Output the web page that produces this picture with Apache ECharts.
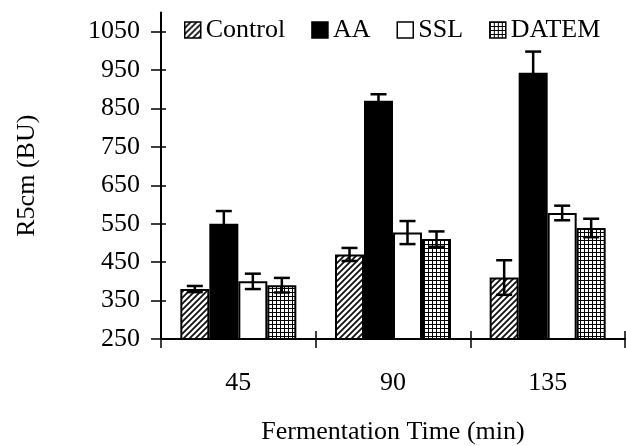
<!DOCTYPE html>
<html>
<head>
<meta charset="utf-8">
<script src="https://cdn.jsdelivr.net/npm/echarts@6/dist/echarts.min.js"></script>
<style>
html, body { margin: 0; padding: 0; background: #fff; }
#chart { width: 626px; height: 446px; }
</style>
</head>
<body>
<div id="chart"></div>
<script>
var categories = ['45', '90', '135'];
var seriesNames = ['Control', 'AA', 'SSL', 'DATEM'];
var controlVals = [380, 470, 410];
var aaVals = [550, 870, 943];
var sslVals = [400, 527, 578];
var datemVals = [390, 510, 539];
var controlErr = [8, 17, 45];
var aaErr = [33, 17, 55];
var sslErr = [20, 30, 19];
var datemErr = [19, 20, 24];
var yTicks = [250, 350, 450, 550, 650, 750, 850, 950, 1050];

var FONT = 'Liberation Serif';
var barW = 29;

// fill patterns
function hatchPattern() {
    var c = document.createElement('canvas');
    c.width = 6; c.height = 6;
    var g = c.getContext('2d');
    g.fillStyle = '#fff';
    g.fillRect(0, 0, 6, 6);
    g.strokeStyle = '#111';
    g.lineWidth = 1.8;
    g.beginPath();
    g.moveTo(-1, 7); g.lineTo(7, -1);
    g.moveTo(-1, 1); g.lineTo(1, -1);
    g.moveTo(5, 7); g.lineTo(7, 5);
    g.stroke();
    return c;
}
function gridPattern() {
    var c = document.createElement('canvas');
    c.width = 4; c.height = 4;
    var g = c.getContext('2d');
    g.fillStyle = '#fff';
    g.fillRect(0, 0, 4, 4);
    g.fillStyle = '#000';
    g.fillRect(0, 0, 4, 1);
    g.fillRect(0, 0, 1, 4);
    return c;
}

var fills = [
    { image: hatchPattern(), repeat: 'repeat' },
    '#000',
    '#fff',
    { image: gridPattern(), repeat: 'repeat' }
];
var vals = [controlVals, aaVals, sslVals, datemVals];
var errs = [controlErr, aaErr, sslErr, datemErr];

var series = [];
seriesNames.forEach(function (name, i) {
    series.push({
        name: name,
        type: 'bar',
        barWidth: barW,
        barGap: '0%',
        data: vals[i],
        itemStyle: { color: fills[i], borderColor: '#000', borderWidth: 2 },
        z: 2
    });
});

// error bars: [category, series, low, high]
var errData = [];
for (var s = 0; s < 4; s++) {
    for (var c = 0; c < categories.length; c++) {
        errData.push([c, s, vals[s][c] - errs[s][c], vals[s][c] + errs[s][c]]);
    }
}
series.push({
    name: 'err',
    type: 'custom',
    silent: true,
    z: 5,
    data: errData,
    encode: { x: 0, y: [2, 3] },
    renderItem: function (params, api) {
        var cat = api.value(0), si = api.value(1);
        var lo = api.coord([cat, api.value(2)]);
        var hi = api.coord([cat, api.value(3)]);
        var x = lo[0] + (si - 1.5) * barW;
        var hw = 8;
        var st = { stroke: '#000', lineWidth: 2.5, fill: null };
        return {
            type: 'group',
            children: [
                { type: 'line', shape: { x1: x, y1: hi[1], x2: x, y2: lo[1] }, style: st },
                { type: 'line', shape: { x1: x - hw, y1: hi[1], x2: x + hw, y2: hi[1] }, style: st },
                { type: 'line', shape: { x1: x - hw, y1: lo[1], x2: x + hw, y2: lo[1] }, style: st }
            ]
        };
    }
});

var txt = { fontFamily: FONT, fontSize: 26, color: '#000' };

var myChart = echarts.init(document.getElementById('chart'));
var option = {
    animation: false,
    backgroundColor: '#fff',
    grid: { left: 161, right: 1, top: 12.4, bottom: 107, outerBoundsMode: 'none' },
    legend: {
        data: seriesNames,
        left: 179,
        top: 12,
        icon: 'rect',
        itemWidth: 16,
        itemHeight: 16,
        itemGap: 26,
        itemStyle: { borderColor: '#000', borderWidth: 1.5 },
        textStyle: txt
    },
    xAxis: [
        {
            type: 'category',
            data: categories,
            position: 'bottom',
            axisLine: { lineStyle: { color: '#000', width: 2 } },
            axisTick: { show: true, length: 9, lineStyle: { color: '#000', width: 1.5 } },
            axisLabel: { fontFamily: FONT, fontSize: 26, color: '#000', margin: 31 },
            name: 'Fermentation Time (min)',
            nameLocation: 'middle',
            nameGap: 80,
            nameTextStyle: txt
        },
        {
            type: 'category',
            data: categories,
            position: 'bottom',
            axisLine: { show: false },
            axisTick: { show: true, inside: true, length: 8, lineStyle: { color: '#000', width: 1.5 } },
            axisLabel: { show: false }
        }
    ],
    yAxis: [
        {
            type: 'value',
            min: 250,
            max: 1100,
            position: 'left',
            axisLine: { show: true, lineStyle: { color: '#000', width: 2 } },
            axisTick: { show: true, length: 10, customValues: yTicks, lineStyle: { color: '#000', width: 1.5 } },
            axisLabel: {
                customValues: yTicks, fontFamily: FONT, fontSize: 26, color: '#000', margin: 21,
                formatter: function (v) { return String(v); }
            },
            splitLine: { show: false },
            name: 'R5cm (BU)',
            nameLocation: 'middle',
            nameGap: 121,
            nameRotate: 90,
            nameTextStyle: txt
        },
        {
            type: 'value',
            min: 250,
            max: 1100,
            position: 'left',
            axisLine: { show: false },
            axisTick: { show: true, inside: true, length: 5, customValues: yTicks, lineStyle: { color: '#000', width: 1.5 } },
            axisLabel: { show: false },
            splitLine: { show: false }
        }
    ],
    series: series
};
myChart.setOption(option);
</script>
</body>
</html>
